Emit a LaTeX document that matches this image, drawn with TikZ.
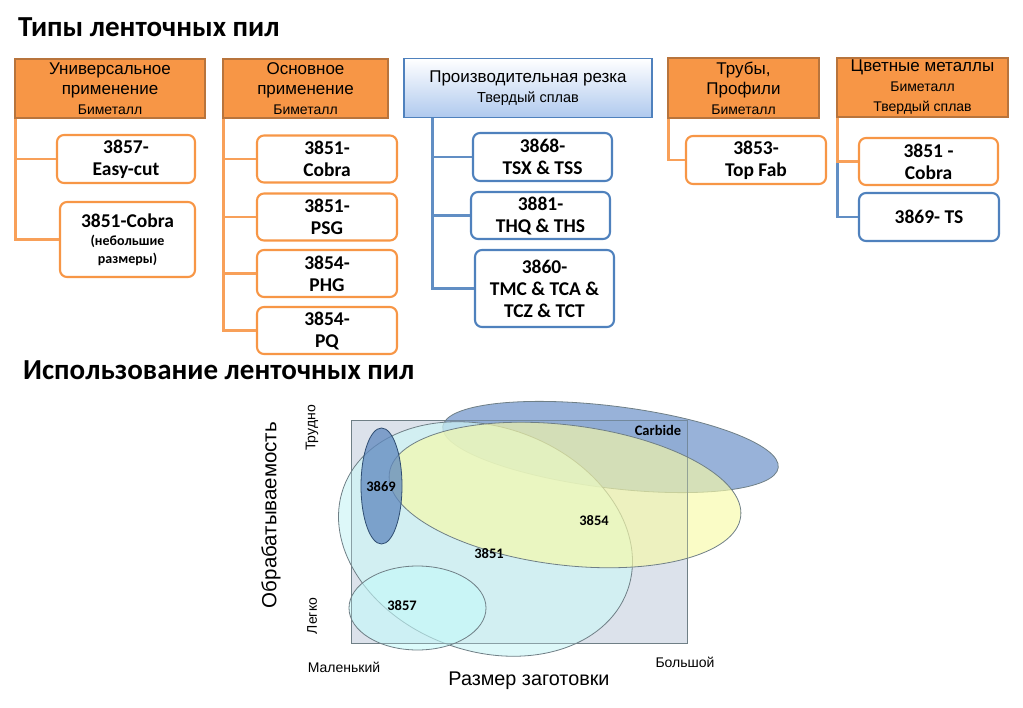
\documentclass[tikz,border=0pt]{standalone}
\usepackage{fontspec}
\setmainfont{Carlito}
\newfontfamily\arialfont{Liberation Sans}
\usepackage{tikz}

\definecolor{sawOrange}{HTML}{F79646}
\definecolor{sawEdge}{HTML}{B8743C}
\definecolor{sawBlue}{HTML}{4F81BD}
\definecolor{headBlue}{HTML}{AFC9EE}
\definecolor{fieldGray}{HTML}{DCE2EB}
\definecolor{rimGray}{HTML}{6F7F86}
\definecolor{zoneCyan}{HTML}{CFF5F6}
\definecolor{zoneAqua}{HTML}{C4FAFA}
\definecolor{zoneYellow}{HTML}{F7FAA8}
\definecolor{zoneCarbide}{HTML}{7E9FCF}
\definecolor{zoneSmall}{HTML}{5F88BE}

\tikzset{
  hdr/.style={draw=sawEdge, fill=sawOrange, line width=1.4pt, align=center, inner sep=0pt,
    font=\arialfont\fontsize{17}{20}\selectfont},
  hdrB/.style={hdr, draw=sawBlue, top color=white, bottom color=headBlue},
  saw/.style={draw=sawOrange, fill=white, rounded corners=7pt, line width=2.1pt, align=center,
    inner sep=0pt, minimum width=139pt, minimum height=47pt, font=\bfseries\fontsize{19.5}{22}\selectfont},
  sawB/.style={saw, draw=sawBlue},
  lnkO/.style={draw=sawOrange!90, line width=2.8pt},
  lnkB/.style={draw=sawBlue!90, line width=2.8pt},
  blob/.style={draw=rimGray, line width=0.8pt},
  tag/.style={font=\bfseries\fontsize{14.5}{16}\selectfont},
  axis/.style={font=\arialfont\fontsize{14}{16}\selectfont}
}

\begin{document}
\begin{tikzpicture}[x=1pt, y=-1pt]
\useasboundingbox (0,0) rectangle (1023,708);

% titles
\node[anchor=base west, font=\bfseries\fontsize{29}{34}\selectfont, inner sep=0pt] (title1) at (18,37) {Типы ленточных пил};
\node[anchor=base west, font=\bfseries\fontsize{29}{34}\selectfont, inner sep=0pt] (title2) at (23,380) {Использование ленточных пил};

% headers
\node[hdr, minimum width=190pt, minimum height=59pt] (h1) at (110,88.5) {Универсальное\\применение\\{\fontsize{14}{15}\selectfont Биметалл}};
\node[hdr, minimum width=165pt, minimum height=59pt] (h2) at (305.5,88.5) {Основное\\применение\\{\fontsize{14}{15}\selectfont Биметалл}};
\node[hdrB, minimum width=248pt, minimum height=59pt] (h3) at (528,88) {Производительная резка\\{\fontsize{14.5}{17}\selectfont Твердый сплав}};
\node[hdr, minimum width=151pt, minimum height=60pt] (h4) at (743.5,88) {Трубы,\\Профили\\{\fontsize{14}{15}\selectfont Биметалл}};
\node[hdr, minimum width=171pt, minimum height=59pt] (h5) at (922.5,87.5) {Цветные металлы\\{\fontsize{14}{17}\selectfont Биметалл}\\{\fontsize{14}{17}\selectfont Твердый сплав}};

% saws
\node[saw, minimum width=138pt, minimum height=48pt] (c11) at (126,159) {3857-\\Easy-cut};
\node[saw, minimum width=135pt, minimum height=75pt] (c12) at (127.5,239.5) {3851-Cobra\\[-4pt]{\fontsize{14}{17}\selectfont(небольшие}\\[-4pt]{\fontsize{14}{17}\selectfont размеры)}};
\node[saw, minimum width=140pt] (c21) at (327,159) {3851-\\Cobra};
\node[saw, minimum width=140pt] (c22) at (327,217) {3851-\\PSG};
\node[saw, minimum width=140pt] (c23) at (327,273.5) {3854-\\PHG};
\node[saw, minimum width=140pt] (c24) at (327,330.5) {3854-\\PQ};
\node[sawB, minimum height=48pt] (c31) at (542.5,157) {3868-\\TSX \& TSS};
\node[sawB] (c32) at (540.5,215.5) {3881-\\THQ \& THS};
\node[sawB, minimum height=77pt] (c33) at (544.5,288.5) {3860-\\TMC \& TCA \&\\TCZ \& TCT};
\node[saw, minimum width=140pt, minimum height=48pt] (c41) at (756,160) {3853-\\Top Fab};
\node[saw] (c51) at (928.5,161.5) {3851 -\\Cobra};
\node[sawB, minimum width=140pt, minimum height=48pt] (c52) at (929,217) {3869- TS};

% links
\draw[lnkO] ([xshift=1pt]h1.south west) |- (c11.west);
\draw[lnkO] ([xshift=1pt]h1.south west) |- (c12.west);
\foreach \k in {1,...,4}
  \draw[lnkO] ([xshift=1pt]h2.south west) |- (c2\k.west);
\foreach \k in {1,2,3}
  \draw[lnkB] ([xshift=29pt]h3.south west) |- (c3\k.west);
\draw[lnkO] ([xshift=1pt]h4.south west) |- (c41.west);
\draw[lnkB] ([xshift=1pt]h5.south west) |- (c52.west);
\draw[lnkO] ([xshift=1pt]h5.south west) |- (c51.west);

% usage chart
\draw[draw=rimGray, fill=fieldGray, line width=0.8pt] (351,420) rectangle (687,643);
\draw[blob, fill=zoneCarbide, fill opacity=0.8, rotate around={-7:(610.5,447)}] (610.5,447) ellipse [x radius=169, y radius=41];
\draw[blob, fill=zoneCyan, fill opacity=0.7, rotate around={-20:(485.5,539)}] (485.5,539) ellipse [x radius=151, y radius=112];
\draw[blob, fill=zoneYellow, fill opacity=0.65, rotate around={-7:(565,495)}] (565,495) ellipse [x radius=177, y radius=70];
\draw[blob, draw=sawBlue!60!black, fill=zoneSmall, fill opacity=0.75] (381.5,486) ellipse [x radius=20.5, y radius=58];
\draw[blob, fill=zoneAqua, fill opacity=0.6] (417.5,608) ellipse [x radius=68.5, y radius=42];
\draw[draw=rimGray, line width=0.6pt, opacity=0.6] (351,420) rectangle (687,643);

\node[tag] (carbide) at (658,430) {Carbide};
\node[tag] (s3869) at (381,487) {3869};
\node[tag] (s3854) at (594,521) {3854};
\node[tag] (s3851) at (489,554) {3851};
\node[tag] (s3857) at (402,606) {3857};

\node[rotate=90, font=\arialfont\fontsize{20.5}{24}\selectfont] (ylab) at (271,515) {Обрабатываемость};
\node[axis, rotate=90] (hard) at (312,428) {Трудно};
\node[axis, rotate=90] (easy) at (312,616) {Легко};
\node[axis] (small) at (344,667) {Маленький};
\node[axis] (big) at (685,662) {Большой};
\node[font=\arialfont\fontsize{19.8}{22}\selectfont] (xlab) at (529,681) {Размер заготовки};
\end{tikzpicture}
\end{document}
